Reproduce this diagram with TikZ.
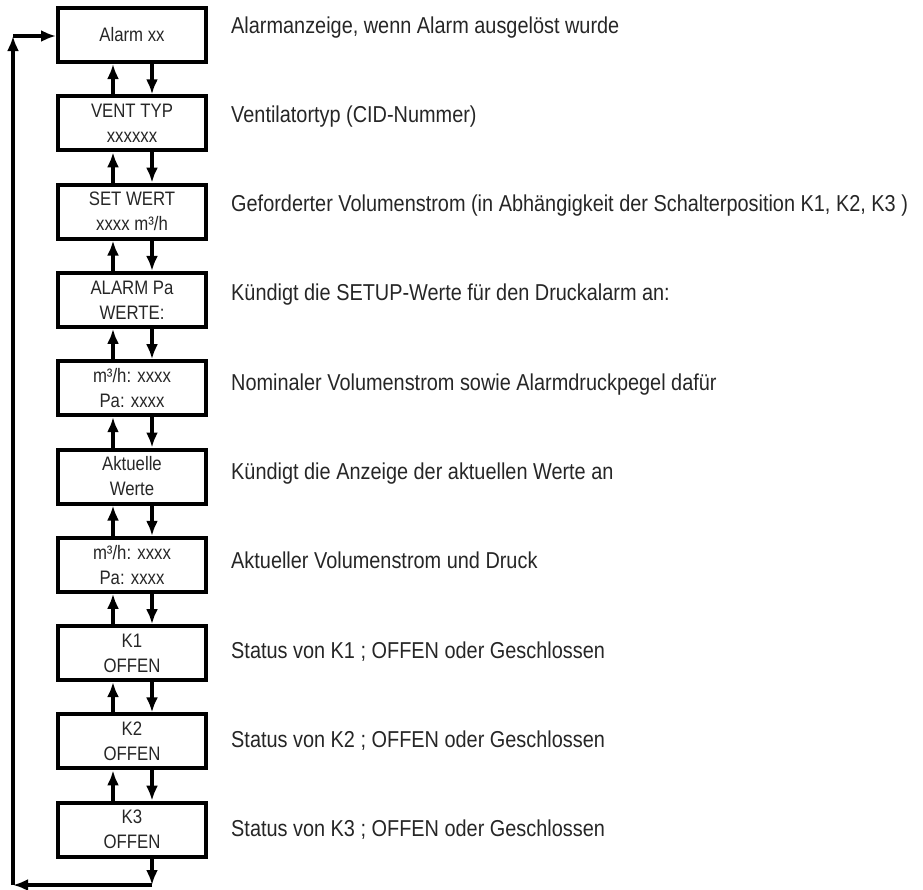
\documentclass[tikz,border=0pt]{standalone}
\usepackage{fontspec}
\setmainfont{Liberation Sans}[FakeStretch=0.86]
\newfontfamily\lblfont{Liberation Sans}[FakeStretch=0.865]
\usetikzlibrary{arrows.meta}
\tikzset{
  box/.style={draw, line width=4pt, minimum width=148pt, minimum height=54pt, inner sep=0pt, align=center, font=\fontsize{19.5}{25}\selectfont, text=black!85},
  lbl/.style={anchor=base west, inner sep=0pt, font=\lblfont\fontsize{23}{28}\selectfont, text=black!85},
  arr/.style={line width=3.5pt, -{Latex[length=15pt,width=12pt]}},
}
\begin{document}
\begin{tikzpicture}[x=1pt,y=-1pt]
\useasboundingbox (0,0) rectangle (923,889);
\def\pitch{88.3}
\def\lp{89.3}
\node[box] (b1) at (132,35) {Alarm xx};
\node[box] (b2) at (132,35+1*\pitch) {VENT TYP\\xxxxxx};
\node[box] (b3) at (132,35+2*\pitch) {SET WERT\\xxxx m³/h};
\node[box] (b4) at (132,35+3*\pitch) {ALARM Pa\\WERTE:};
\node[box] (b5) at (132,35+4*\pitch) {m³/h: xxxx\\Pa: xxxx};
\node[box] (b6) at (132,35+5*\pitch) {Aktuelle\\Werte};
\node[box] (b7) at (132,35+6*\pitch) {m³/h: xxxx\\Pa: xxxx};
\node[box] (b8) at (132,35+7*\pitch) {K1\\OFFEN};
\node[box] (b9) at (132,35+8*\pitch) {K2\\OFFEN};
\node[box] (b10) at (132,35+9*\pitch) {K3\\OFFEN};
\node[lbl] (l1) at (231,33) {Alarmanzeige, wenn Alarm ausgelöst wurde};
\node[lbl] (l2) at (231,33+1*\lp) {Ventilatortyp (CID-Nummer)};
\node[lbl] (l3) at (231,33+2*\lp) {Geforderter Volumenstrom (in Abhängigkeit der Schalterposition K1, K2, K3 )};
\node[lbl] (l4) at (231,33+3*\lp) {Kündigt die SETUP-Werte für den Druckalarm an:};
\node[lbl] (l5) at (231,33+4*\lp) {Nominaler Volumenstrom sowie Alarmdruckpegel dafür};
\node[lbl] (l6) at (231,33+5*\lp) {Kündigt die Anzeige der aktuellen Werte an};
\node[lbl] (l7) at (231,33+6*\lp) {Aktueller Volumenstrom und Druck};
\node[lbl] (l8) at (231,33+7*\lp) {Status von K1 ; OFFEN oder Geschlossen};
\node[lbl] (l9) at (231,33+8*\lp) {Status von K2 ; OFFEN oder Geschlossen};
\node[lbl] (l10) at (231,33+9*\lp) {Status von K3 ; OFFEN oder Geschlossen};
\foreach \u/\d in {b1/b2,b2/b3,b3/b4,b4/b5,b5/b6,b6/b7,b7/b8,b8/b9,b9/b10}{
  \draw[arr] ([xshift=-19pt]\d.north) -- ([xshift=-19pt]\u.south);
  \draw[arr] ([xshift=20pt]\u.south) -- ([xshift=20pt]\d.north);
}
\coordinate (br) at (152,885);
\coordinate (bl) at (13,885);
\coordinate (tl) at (13,36);
\draw[arr] ([xshift=20pt]b10.south) -- (br);
\draw[arr] (br) -- (bl);
\draw[arr] (bl) -- (tl);
\draw[arr] (tl) -- (b1.west |- tl);
\end{tikzpicture}
\end{document}
